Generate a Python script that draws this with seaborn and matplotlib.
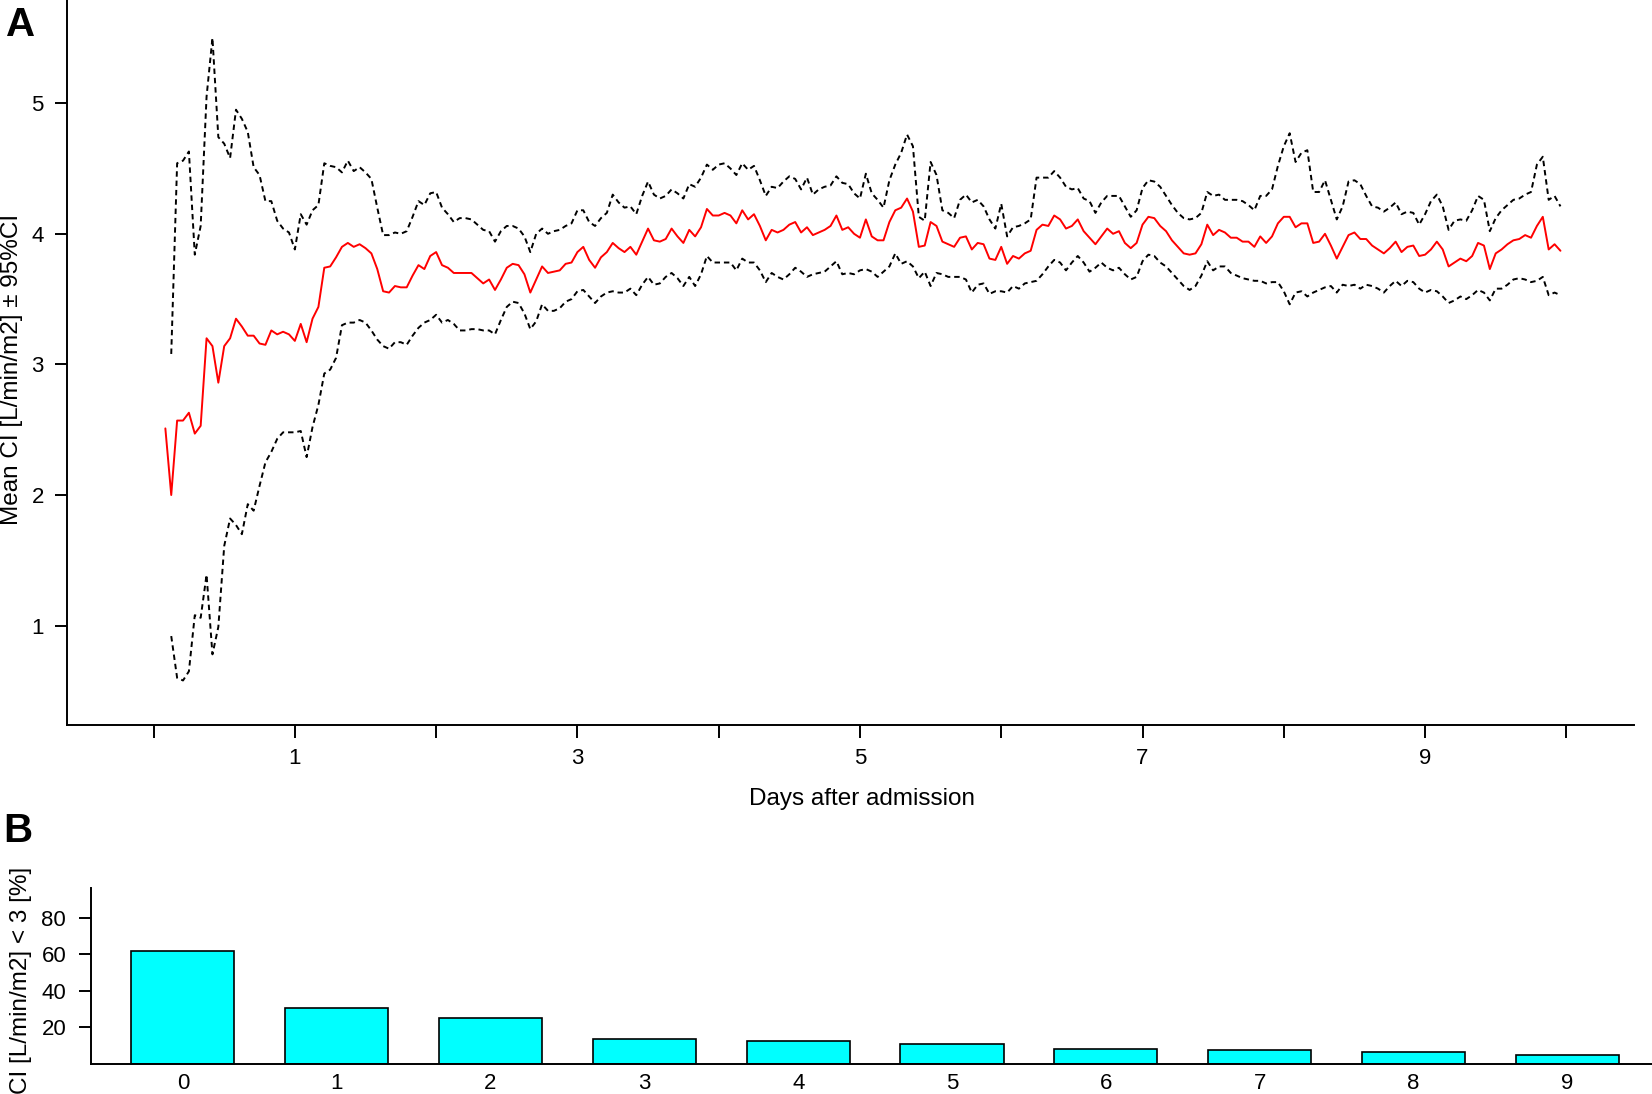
import numpy as np
import pandas as pd
import matplotlib
matplotlib.use("Agg")
import matplotlib.pyplot as plt
import seaborn as sns

# hourly readings, hour 2 .. hour 239 after admission
hours = np.arange(2, 240)

mean_ci = [
    2.51, 2.00, 2.57, 2.57, 2.63, 2.47, 2.53, 3.20, 3.14, 2.86,
    3.14, 3.20, 3.35, 3.29, 3.22, 3.22, 3.16, 3.15, 3.26, 3.23,
    3.25, 3.23, 3.18, 3.31, 3.17, 3.35, 3.44, 3.74, 3.75, 3.82,
    3.90, 3.93, 3.90, 3.92, 3.89, 3.85, 3.73, 3.56, 3.55, 3.60,
    3.59, 3.59, 3.68, 3.76, 3.73, 3.83, 3.86, 3.76, 3.74, 3.70,
    3.70, 3.70, 3.70, 3.66, 3.62, 3.65, 3.57, 3.65, 3.74, 3.77,
    3.76, 3.69, 3.55, 3.65, 3.75, 3.70, 3.71, 3.72, 3.77, 3.78,
    3.86, 3.90, 3.80, 3.74, 3.82, 3.86, 3.93, 3.89, 3.86, 3.90,
    3.84, 3.94, 4.04, 3.95, 3.94, 3.96, 4.04, 3.98, 3.93, 4.03,
    3.98, 4.05, 4.19, 4.14, 4.14, 4.16, 4.14, 4.08, 4.18, 4.11,
    4.15, 4.06, 3.95, 4.03, 4.01, 4.03, 4.07, 4.09, 4.01, 4.05,
    3.99, 4.01, 4.03, 4.06, 4.14, 4.03, 4.05, 4.00, 3.97, 4.11,
    3.98, 3.95, 3.95, 4.09, 4.18, 4.20, 4.27, 4.17, 3.90, 3.91,
    4.09, 4.06, 3.94, 3.92, 3.90, 3.97, 3.98, 3.88, 3.93, 3.92,
    3.81, 3.80, 3.90, 3.77, 3.83, 3.81, 3.85, 3.87, 4.03, 4.07,
    4.06, 4.14, 4.11, 4.04, 4.06, 4.11, 4.02, 3.97, 3.92, 3.98,
    4.04, 4.00, 4.02, 3.93, 3.89, 3.93, 4.07, 4.13, 4.12, 4.06,
    4.02, 3.95, 3.90, 3.85, 3.84, 3.85, 3.92, 4.07, 3.99, 4.03,
    4.01, 3.97, 3.97, 3.94, 3.94, 3.90, 3.98, 3.93, 3.98, 4.08,
    4.13, 4.13, 4.05, 4.08, 4.08, 3.93, 3.94, 4.00, 3.91, 3.81,
    3.90, 3.99, 4.01, 3.96, 3.96, 3.91, 3.88, 3.85, 3.89, 3.94,
    3.86, 3.90, 3.91, 3.83, 3.84, 3.88, 3.94, 3.88, 3.75, 3.78,
    3.81, 3.79, 3.83, 3.93, 3.91, 3.73, 3.85, 3.88, 3.92, 3.95,
    3.96, 3.99, 3.97, 4.06, 4.13, 3.88, 3.92, 3.87,
]

upper_ci = [
    np.nan, 3.08, 4.54, 4.56, 4.63, 3.84, 4.06, 5.05, 5.50, 4.74,
    4.69, 4.58, 4.95, 4.88, 4.78, 4.51, 4.45, 4.25, 4.25, 4.10,
    4.04, 4.01, 3.88, 4.15, 4.07, 4.18, 4.22, 4.54, 4.52, 4.51,
    4.47, 4.56, 4.48, 4.51, 4.47, 4.42, 4.20, 3.99, 3.99, 4.01,
    4.00, 4.02, 4.13, 4.25, 4.22, 4.31, 4.32, 4.20, 4.15, 4.09,
    4.12, 4.12, 4.11, 4.07, 4.03, 4.02, 3.94, 4.02, 4.06, 4.06,
    4.04, 3.98, 3.86, 4.00, 4.04, 4.00, 4.02, 4.03, 4.06, 4.08,
    4.18, 4.18, 4.09, 4.06, 4.12, 4.16, 4.30, 4.24, 4.20, 4.21,
    4.15, 4.29, 4.40, 4.30, 4.27, 4.29, 4.34, 4.31, 4.27, 4.38,
    4.36, 4.43, 4.53, 4.49, 4.53, 4.54, 4.50, 4.45, 4.54, 4.49,
    4.52, 4.41, 4.29, 4.36, 4.35, 4.40, 4.44, 4.42, 4.34, 4.43,
    4.30, 4.34, 4.36, 4.37, 4.44, 4.39, 4.38, 4.31, 4.27, 4.46,
    4.31, 4.26, 4.20, 4.41, 4.53, 4.62, 4.76, 4.67, 4.13, 4.10,
    4.55, 4.45, 4.18, 4.16, 4.12, 4.26, 4.30, 4.24, 4.26, 4.21,
    4.11, 4.04, 4.23, 3.98, 4.05, 4.06, 4.08, 4.11, 4.43, 4.43,
    4.43, 4.48, 4.43, 4.36, 4.34, 4.35, 4.27, 4.25, 4.16, 4.24,
    4.29, 4.29, 4.29, 4.21, 4.13, 4.18, 4.35, 4.41, 4.40, 4.36,
    4.29, 4.22, 4.16, 4.12, 4.11, 4.12, 4.16, 4.32, 4.29, 4.30,
    4.26, 4.26, 4.26, 4.25, 4.22, 4.18, 4.29, 4.29, 4.34, 4.52,
    4.67, 4.77, 4.55, 4.62, 4.64, 4.32, 4.32, 4.41, 4.26, 4.11,
    4.21, 4.40, 4.41, 4.38, 4.29, 4.21, 4.20, 4.17, 4.20, 4.24,
    4.15, 4.17, 4.16, 4.07, 4.15, 4.25, 4.30, 4.21, 4.03, 4.10,
    4.11, 4.10, 4.18, 4.29, 4.26, 4.02, 4.12, 4.18, 4.22, 4.26,
    4.27, 4.30, 4.32, 4.53, 4.59, 4.26, 4.29, 4.21,
]

lower_ci = [
    np.nan, 0.92, 0.60, 0.58, 0.65, 1.08, 1.06, 1.39, 0.78, 0.99,
    1.61, 1.82, 1.77, 1.70, 1.93, 1.88, 2.07, 2.25, 2.33, 2.43,
    2.48, 2.48, 2.48, 2.49, 2.29, 2.52, 2.69, 2.93, 2.96, 3.05,
    3.30, 3.32, 3.32, 3.34, 3.32, 3.26, 3.19, 3.14, 3.12, 3.17,
    3.17, 3.15, 3.22, 3.28, 3.32, 3.34, 3.38, 3.32, 3.34, 3.31,
    3.26, 3.26, 3.27, 3.27, 3.26, 3.26, 3.23, 3.34, 3.44, 3.48,
    3.47, 3.39, 3.27, 3.33, 3.46, 3.41, 3.41, 3.43, 3.48, 3.50,
    3.56, 3.57, 3.52, 3.47, 3.52, 3.55, 3.56, 3.55, 3.55, 3.58,
    3.53, 3.61, 3.67, 3.61, 3.62, 3.67, 3.70, 3.66, 3.60, 3.67,
    3.60, 3.69, 3.83, 3.78, 3.78, 3.78, 3.78, 3.72, 3.81, 3.78,
    3.78, 3.72, 3.63, 3.70, 3.67, 3.65, 3.69, 3.74, 3.71, 3.67,
    3.69, 3.70, 3.71, 3.75, 3.79, 3.69, 3.70, 3.69, 3.72, 3.73,
    3.71, 3.67, 3.71, 3.75, 3.85, 3.77, 3.79, 3.75, 3.66, 3.71,
    3.60, 3.70, 3.69, 3.67, 3.67, 3.67, 3.65, 3.55, 3.61, 3.62,
    3.54, 3.56, 3.56, 3.55, 3.60, 3.58, 3.62, 3.63, 3.64, 3.69,
    3.75, 3.80, 3.78, 3.72, 3.78, 3.83, 3.78, 3.71, 3.74, 3.78,
    3.74, 3.72, 3.74, 3.69, 3.65, 3.67, 3.79, 3.84, 3.83, 3.78,
    3.75, 3.70, 3.65, 3.60, 3.57, 3.60, 3.68, 3.79, 3.72, 3.75,
    3.75, 3.70, 3.68, 3.66, 3.65, 3.64, 3.64, 3.62, 3.63, 3.63,
    3.56, 3.46, 3.55, 3.56, 3.52, 3.55, 3.57, 3.59, 3.60, 3.55,
    3.61, 3.60, 3.61, 3.58, 3.61, 3.60, 3.58, 3.55, 3.60, 3.64,
    3.60, 3.64, 3.63, 3.58, 3.55, 3.57, 3.56, 3.52, 3.47, 3.49,
    3.52, 3.50, 3.53, 3.57, 3.55, 3.49, 3.58, 3.58, 3.61, 3.65,
    3.66, 3.65, 3.63, 3.64, 3.67, 3.53, 3.55, 3.53,
]

# panel B: share of patients with CI < 3 per day
day_labels = ["0", "1", "2", "3", "4", "5", "6", "7", "8", "9"]
pct_low = [61.6, 30.4, 24.9, 13.5, 12.6, 10.5, 8.0, 7.5, 6.4, 4.9]

df = pd.DataFrame({"day": hours / 24, "mean": mean_ci,
                   "upper": upper_ci, "lower": lower_ci})

sns.set_style("ticks")
plt.rcParams["font.family"] = ["Liberation Sans", "DejaVu Sans"]
plt.rcParams.update({
    "axes.linewidth": 1.4,
    "axes.edgecolor": "black",
    "text.color": "black",
    "xtick.color": "black",
    "ytick.color": "black",
})

fig = plt.figure(figsize=(16.52, 10.94), dpi=100)
ax1 = fig.add_axes([0.0408, 0.3374, 0.9484, 0.6626])
ax2 = fig.add_axes([0.0548, 0.0278, 0.9452, 0.1602])

# Panel A: mean CI with 95% band
sns.lineplot(data=df, x="day", y="upper", ax=ax1, color="black",
             lw=1.4, linestyle=(0, (2.8, 2.0)))
sns.lineplot(data=df, x="day", y="lower", ax=ax1, color="black",
             lw=1.4, linestyle=(0, (2.8, 2.0)))
sns.lineplot(data=df, x="day", y="mean", ax=ax1, color="red", lw=1.4)

ax1.set_xlim(-0.61, 10.48)
ax1.set_ylim(0.24, 5.79)
ax1.set_xticks(range(0, 11))
ax1.set_xticklabels([str(d) if d % 2 == 1 else "" for d in range(0, 11)])
ax1.set_yticks([1, 2, 3, 4, 5])
ax1.set_xlabel("")
ax1.set_ylabel("")
ax1.tick_params(axis="x", length=9, width=1.4, pad=8, labelsize=16)
ax1.tick_params(axis="y", length=9, width=1.4, pad=8, labelsize=16)
sns.despine(ax=ax1)

# Panel B: bars
sns.barplot(x=day_labels, y=pct_low, ax=ax2, color="#00FFFF", saturation=1,
            edgecolor="black", linewidth=1.2, width=0.67)
ax2.set_xlim(-0.6, 9.55)
ax2.set_ylim(0, 96)
ax2.set_yticks([20, 40, 60, 80])
ax2.tick_params(axis="x", length=0, pad=7, labelsize=16)
ax2.tick_params(axis="y", length=9, width=1.4, pad=8.5, labelsize=16)
sns.despine(ax=ax2)

fig.text(0.0073, 0.662, "Mean CI [L/min/m2] \u00b1 95%CI", rotation=90,
         ha="center", va="center", fontsize=17.5)
fig.text(0.522, 0.270, "Days after admission", ha="center", va="center",
         fontsize=17.5)
fig.text(0.0125, 0.104, "CI [L/min/m2] < 3 [%]", rotation=90,
         ha="center", va="center", fontsize=17.5)
fig.text(0.0127, 0.977, "A", ha="center", va="center", fontsize=29,
         fontweight="bold")
fig.text(0.011, 0.240, "B", ha="center", va="center", fontsize=29,
         fontweight="bold")

fig.savefig("out.png", dpi=100)
